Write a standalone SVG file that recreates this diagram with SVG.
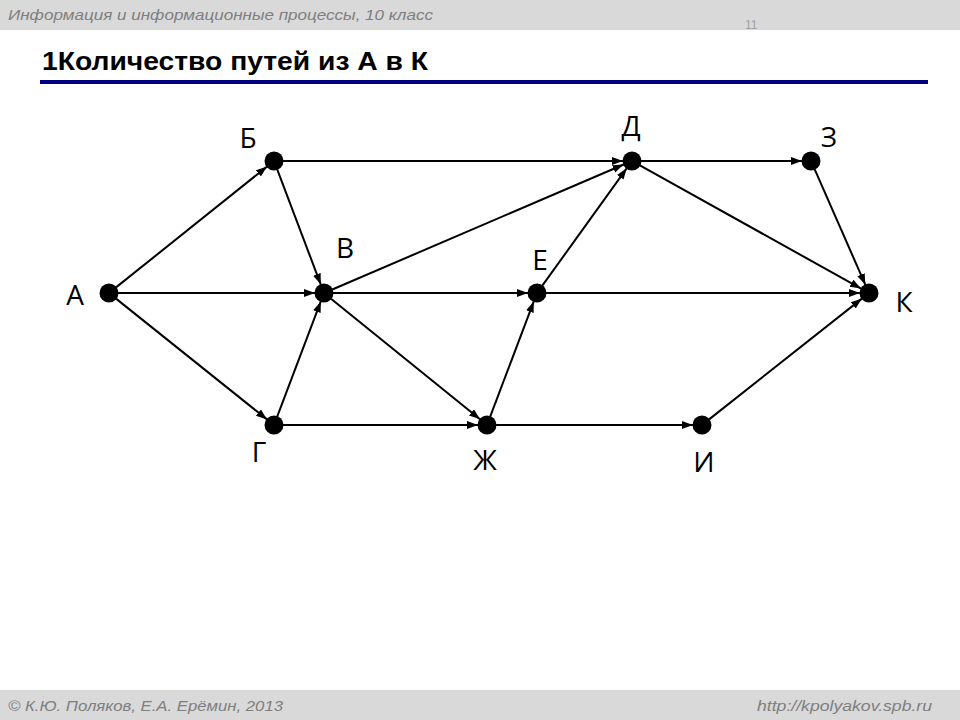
<svg xmlns="http://www.w3.org/2000/svg" width="960" height="720" viewBox="0 0 960 720">
<style>
.hdr{font-family:"Liberation Sans",Arial,sans-serif;font-style:italic;fill:#7f7f7f;font-size:15px}
.title{font-family:"Liberation Sans",Arial,sans-serif;font-weight:bold;font-size:26px;fill:#000}
.lbl{font-family:"Open Sans","Liberation Sans",Arial,sans-serif;font-size:28px;fill:#000;text-anchor:middle}
.node circle{fill:#000}
#edges line{stroke:#000;stroke-width:2;marker-end:url(#arr)}
</style>
<defs>
<marker id="arr" markerUnits="userSpaceOnUse" markerWidth="12" markerHeight="10" refX="11" refY="4" orient="auto">
<path d="M0,0 L11,4 L0,8 Z" fill="#000"/>
</marker>
</defs>
<rect x="0" y="0" width="960" height="720" fill="#fff"/>
<rect x="0" y="0" width="960" height="30" fill="#d9d9d9"/>
<text class="hdr" x="8" y="20" textLength="425" lengthAdjust="spacingAndGlyphs">Информация и информационные процессы, 10 класс</text>
<text x="745" y="29" font-family="Liberation Sans,Arial,sans-serif" font-size="12" fill="#a0a0a0">11</text>
<text class="title" x="42" y="70" textLength="386" lengthAdjust="spacingAndGlyphs">1Количество путей из А в К</text>
<rect x="40" y="80" width="888" height="4" fill="#000080"/>
<rect x="0" y="690" width="960" height="30" fill="#d9d9d9"/>
<text class="hdr" x="8" y="711" textLength="275" lengthAdjust="spacingAndGlyphs">© К.Ю. Поляков, Е.А. Ерёмин, 2013</text>
<text class="hdr" x="757" y="711" textLength="175" lengthAdjust="spacingAndGlyphs">http://kpolyakov.spb.ru</text>
<g id="edges">
<line x1="116" y1="287.4" x2="267" y2="166.6"/>
<line x1="118" y1="293" x2="315" y2="293"/>
<line x1="116" y1="298.6" x2="267" y2="419.4"/>
<line x1="277.2" y1="169.4" x2="320.8" y2="284.6"/>
<line x1="283" y1="161" x2="623" y2="161"/>
<line x1="332.3" y1="289.5" x2="623.7" y2="164.5"/>
<line x1="333" y1="293" x2="528" y2="293"/>
<line x1="331" y1="298.7" x2="480" y2="419.3"/>
<line x1="277.2" y1="416.6" x2="320.8" y2="301.4"/>
<line x1="283" y1="425" x2="478" y2="425"/>
<line x1="641" y1="161" x2="802" y2="161"/>
<line x1="639.9" y1="165.4" x2="861.1" y2="288.6"/>
<line x1="814.6" y1="169.2" x2="865.4" y2="284.8"/>
<line x1="542.3" y1="285.7" x2="626.7" y2="168.3"/>
<line x1="546" y1="293" x2="860" y2="293"/>
<line x1="490.2" y1="416.6" x2="533.8" y2="301.4"/>
<line x1="496" y1="425" x2="693" y2="425"/>
<line x1="709.1" y1="419.4" x2="861.9" y2="298.6"/>
</g>
<g id="A" class="node"><circle cx="109" cy="293" r="9.5"/><text class="lbl" x="75" y="305">А</text></g>
<g id="B1" class="node"><circle cx="274" cy="161" r="9.5"/><text class="lbl" x="248" y="148">Б</text></g>
<g id="V" class="node"><circle cx="324" cy="293" r="9.5"/><text class="lbl" x="345" y="258">В</text></g>
<g id="G" class="node"><circle cx="274" cy="425" r="9.5"/><text class="lbl" x="259" y="462">Г</text></g>
<g id="D" class="node"><circle cx="632" cy="161" r="9.5"/><text class="lbl" x="631" y="136">Д</text></g>
<g id="Z" class="node"><circle cx="811" cy="161" r="9.5"/><text class="lbl" x="829" y="147">З</text></g>
<g id="E" class="node"><circle cx="537" cy="293" r="9.5"/><text class="lbl" x="540" y="270">Е</text></g>
<g id="Zh" class="node"><circle cx="487" cy="425" r="9.5"/><text class="lbl" x="485" y="470">Ж</text></g>
<g id="I" class="node"><circle cx="702" cy="425" r="9.5"/><text class="lbl" x="704" y="472">И</text></g>
<g id="K" class="node"><circle cx="869" cy="293" r="9.5"/><text class="lbl" x="904" y="312">К</text></g>
</svg>
